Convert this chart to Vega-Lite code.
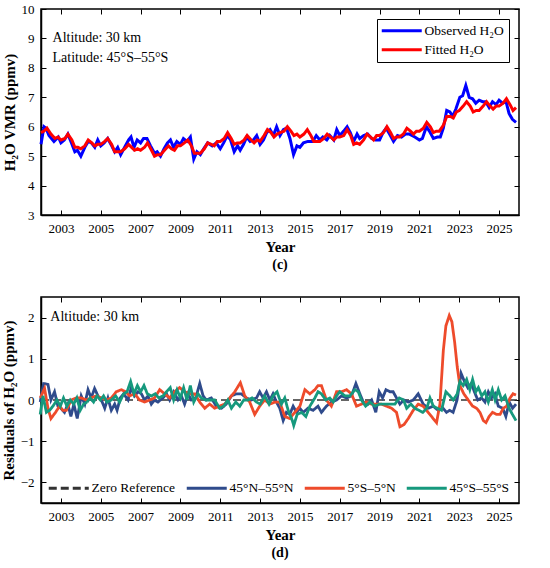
{
  "$schema": "https://vega.github.io/schema/vega-lite/v6.json",
  "padding": {"left": 0, "top": 2, "right": 5, "bottom": 4},
  "background": "white",
  "spacing": 22,
  "resolve": {"scale": {"color": "independent", "strokeDash": "independent", "x": "independent", "y": "independent"}, "legend": {"color": "independent", "strokeDash": "independent"}},
  "config": {
    "view": {"stroke": "black", "strokeWidth": 1.5},
    "font": "Liberation Serif",
    "axis": {
      "labelFont": "Liberation Serif", "labelFontSize": 13, "labelColor": "black",
      "titleFont": "Liberation Serif", "titleFontSize": 15, "titleFontWeight": "bold", "titleColor": "black",
      "tickColor": "black", "domainColor": "black", "domainWidth": 1.5, "tickWidth": 1, "tickSize": -5,
      "grid": false, "labelPadding": 12
    },
    "legend": {"labelFont": "Liberation Serif", "labelFontSize": 13.5, "labelColor": "black", "labelLimit": 300}
  },
  "datasets": {
    "top": [
      {"year": 2002.0, "value": 5.4, "series": "Observed H₂O"},
      {"year": 2002.15, "value": 6.0, "series": "Observed H₂O"},
      {"year": 2002.25, "value": 5.95, "series": "Observed H₂O"},
      {"year": 2002.4, "value": 5.7, "series": "Observed H₂O"},
      {"year": 2002.65, "value": 5.5, "series": "Observed H₂O"},
      {"year": 2002.87, "value": 5.65, "series": "Observed H₂O"},
      {"year": 2003.0, "value": 5.45, "series": "Observed H₂O"},
      {"year": 2003.17, "value": 5.55, "series": "Observed H₂O"},
      {"year": 2003.35, "value": 5.75, "series": "Observed H₂O"},
      {"year": 2003.53, "value": 5.45, "series": "Observed H₂O"},
      {"year": 2003.7, "value": 5.15, "series": "Observed H₂O"},
      {"year": 2003.83, "value": 5.2, "series": "Observed H₂O"},
      {"year": 2004.0, "value": 5.0, "series": "Observed H₂O"},
      {"year": 2004.2, "value": 5.3, "series": "Observed H₂O"},
      {"year": 2004.37, "value": 5.5, "series": "Observed H₂O"},
      {"year": 2004.53, "value": 5.45, "series": "Observed H₂O"},
      {"year": 2004.7, "value": 5.3, "series": "Observed H₂O"},
      {"year": 2004.85, "value": 5.55, "series": "Observed H₂O"},
      {"year": 2005.0, "value": 5.35, "series": "Observed H₂O"},
      {"year": 2005.17, "value": 5.45, "series": "Observed H₂O"},
      {"year": 2005.35, "value": 5.6, "series": "Observed H₂O"},
      {"year": 2005.55, "value": 5.35, "series": "Observed H₂O"},
      {"year": 2005.7, "value": 5.15, "series": "Observed H₂O"},
      {"year": 2005.85, "value": 5.3, "series": "Observed H₂O"},
      {"year": 2006.0, "value": 5.05, "series": "Observed H₂O"},
      {"year": 2006.2, "value": 5.3, "series": "Observed H₂O"},
      {"year": 2006.4, "value": 5.55, "series": "Observed H₂O"},
      {"year": 2006.52, "value": 5.65, "series": "Observed H₂O"},
      {"year": 2006.67, "value": 5.3, "series": "Observed H₂O"},
      {"year": 2006.83, "value": 5.55, "series": "Observed H₂O"},
      {"year": 2007.0, "value": 5.45, "series": "Observed H₂O"},
      {"year": 2007.15, "value": 5.6, "series": "Observed H₂O"},
      {"year": 2007.32, "value": 5.6, "series": "Observed H₂O"},
      {"year": 2007.5, "value": 5.35, "series": "Observed H₂O"},
      {"year": 2007.7, "value": 5.1, "series": "Observed H₂O"},
      {"year": 2007.83, "value": 5.15, "series": "Observed H₂O"},
      {"year": 2008.0, "value": 5.0, "series": "Observed H₂O"},
      {"year": 2008.18, "value": 5.25, "series": "Observed H₂O"},
      {"year": 2008.35, "value": 5.45, "series": "Observed H₂O"},
      {"year": 2008.5, "value": 5.55, "series": "Observed H₂O"},
      {"year": 2008.65, "value": 5.3, "series": "Observed H₂O"},
      {"year": 2008.82, "value": 5.5, "series": "Observed H₂O"},
      {"year": 2009.0, "value": 5.4, "series": "Observed H₂O"},
      {"year": 2009.15, "value": 5.6, "series": "Observed H₂O"},
      {"year": 2009.33, "value": 5.5, "series": "Observed H₂O"},
      {"year": 2009.5, "value": 5.65, "series": "Observed H₂O"},
      {"year": 2009.67, "value": 4.9, "series": "Observed H₂O"},
      {"year": 2009.83, "value": 5.15, "series": "Observed H₂O"},
      {"year": 2010.0, "value": 5.05, "series": "Observed H₂O"},
      {"year": 2010.17, "value": 5.25, "series": "Observed H₂O"},
      {"year": 2010.37, "value": 5.45, "series": "Observed H₂O"},
      {"year": 2010.6, "value": 5.35, "series": "Observed H₂O"},
      {"year": 2010.8, "value": 5.45, "series": "Observed H₂O"},
      {"year": 2011.0, "value": 5.25, "series": "Observed H₂O"},
      {"year": 2011.17, "value": 5.45, "series": "Observed H₂O"},
      {"year": 2011.35, "value": 5.7, "series": "Observed H₂O"},
      {"year": 2011.52, "value": 5.55, "series": "Observed H₂O"},
      {"year": 2011.7, "value": 5.15, "series": "Observed H₂O"},
      {"year": 2011.87, "value": 5.35, "series": "Observed H₂O"},
      {"year": 2012.0, "value": 5.2, "series": "Observed H₂O"},
      {"year": 2012.17, "value": 5.4, "series": "Observed H₂O"},
      {"year": 2012.33, "value": 5.65, "series": "Observed H₂O"},
      {"year": 2012.5, "value": 5.5, "series": "Observed H₂O"},
      {"year": 2012.67, "value": 5.55, "series": "Observed H₂O"},
      {"year": 2012.83, "value": 5.7, "series": "Observed H₂O"},
      {"year": 2013.0, "value": 5.4, "series": "Observed H₂O"},
      {"year": 2013.17, "value": 5.55, "series": "Observed H₂O"},
      {"year": 2013.33, "value": 5.8, "series": "Observed H₂O"},
      {"year": 2013.5, "value": 5.9, "series": "Observed H₂O"},
      {"year": 2013.67, "value": 5.7, "series": "Observed H₂O"},
      {"year": 2013.83, "value": 6.0, "series": "Observed H₂O"},
      {"year": 2014.0, "value": 5.7, "series": "Observed H₂O"},
      {"year": 2014.17, "value": 5.9, "series": "Observed H₂O"},
      {"year": 2014.33, "value": 5.95, "series": "Observed H₂O"},
      {"year": 2014.5, "value": 5.6, "series": "Observed H₂O"},
      {"year": 2014.68, "value": 5.05, "series": "Observed H₂O"},
      {"year": 2014.85, "value": 5.35, "series": "Observed H₂O"},
      {"year": 2015.0, "value": 5.3, "series": "Observed H₂O"},
      {"year": 2015.18, "value": 5.45, "series": "Observed H₂O"},
      {"year": 2015.4, "value": 5.5, "series": "Observed H₂O"},
      {"year": 2015.65, "value": 5.5, "series": "Observed H₂O"},
      {"year": 2015.82, "value": 5.7, "series": "Observed H₂O"},
      {"year": 2016.0, "value": 5.55, "series": "Observed H₂O"},
      {"year": 2016.15, "value": 5.65, "series": "Observed H₂O"},
      {"year": 2016.35, "value": 5.55, "series": "Observed H₂O"},
      {"year": 2016.5, "value": 5.7, "series": "Observed H₂O"},
      {"year": 2016.7, "value": 5.55, "series": "Observed H₂O"},
      {"year": 2016.85, "value": 5.9, "series": "Observed H₂O"},
      {"year": 2017.0, "value": 5.7, "series": "Observed H₂O"},
      {"year": 2017.2, "value": 5.85, "series": "Observed H₂O"},
      {"year": 2017.37, "value": 6.0, "series": "Observed H₂O"},
      {"year": 2017.53, "value": 5.8, "series": "Observed H₂O"},
      {"year": 2017.7, "value": 5.5, "series": "Observed H₂O"},
      {"year": 2017.87, "value": 5.75, "series": "Observed H₂O"},
      {"year": 2018.0, "value": 5.6, "series": "Observed H₂O"},
      {"year": 2018.2, "value": 5.7, "series": "Observed H₂O"},
      {"year": 2018.4, "value": 5.75, "series": "Observed H₂O"},
      {"year": 2018.6, "value": 5.6, "series": "Observed H₂O"},
      {"year": 2018.8, "value": 5.55, "series": "Observed H₂O"},
      {"year": 2019.0, "value": 5.55, "series": "Observed H₂O"},
      {"year": 2019.17, "value": 5.8, "series": "Observed H₂O"},
      {"year": 2019.33, "value": 5.95, "series": "Observed H₂O"},
      {"year": 2019.5, "value": 5.75, "series": "Observed H₂O"},
      {"year": 2019.7, "value": 5.5, "series": "Observed H₂O"},
      {"year": 2019.9, "value": 5.7, "series": "Observed H₂O"},
      {"year": 2020.1, "value": 5.65, "series": "Observed H₂O"},
      {"year": 2020.3, "value": 5.75, "series": "Observed H₂O"},
      {"year": 2020.5, "value": 5.75, "series": "Observed H₂O"},
      {"year": 2020.77, "value": 5.65, "series": "Observed H₂O"},
      {"year": 2021.0, "value": 5.55, "series": "Observed H₂O"},
      {"year": 2021.15, "value": 5.6, "series": "Observed H₂O"},
      {"year": 2021.35, "value": 6.0, "series": "Observed H₂O"},
      {"year": 2021.5, "value": 5.85, "series": "Observed H₂O"},
      {"year": 2021.7, "value": 5.6, "series": "Observed H₂O"},
      {"year": 2021.9, "value": 5.65, "series": "Observed H₂O"},
      {"year": 2022.05, "value": 5.65, "series": "Observed H₂O"},
      {"year": 2022.2, "value": 5.95, "series": "Observed H₂O"},
      {"year": 2022.37, "value": 6.55, "series": "Observed H₂O"},
      {"year": 2022.53, "value": 6.5, "series": "Observed H₂O"},
      {"year": 2022.67, "value": 6.35, "series": "Observed H₂O"},
      {"year": 2022.83, "value": 6.6, "series": "Observed H₂O"},
      {"year": 2023.03, "value": 7.0, "series": "Observed H₂O"},
      {"year": 2023.17, "value": 7.05, "series": "Observed H₂O"},
      {"year": 2023.33, "value": 7.4, "series": "Observed H₂O"},
      {"year": 2023.5, "value": 7.0, "series": "Observed H₂O"},
      {"year": 2023.67, "value": 6.95, "series": "Observed H₂O"},
      {"year": 2023.83, "value": 6.8, "series": "Observed H₂O"},
      {"year": 2024.0, "value": 6.9, "series": "Observed H₂O"},
      {"year": 2024.17, "value": 6.85, "series": "Observed H₂O"},
      {"year": 2024.33, "value": 6.85, "series": "Observed H₂O"},
      {"year": 2024.5, "value": 6.65, "series": "Observed H₂O"},
      {"year": 2024.67, "value": 6.85, "series": "Observed H₂O"},
      {"year": 2024.85, "value": 6.75, "series": "Observed H₂O"},
      {"year": 2025.0, "value": 6.9, "series": "Observed H₂O"},
      {"year": 2025.17, "value": 6.8, "series": "Observed H₂O"},
      {"year": 2025.35, "value": 6.85, "series": "Observed H₂O"},
      {"year": 2025.5, "value": 6.45, "series": "Observed H₂O"},
      {"year": 2025.67, "value": 6.25, "series": "Observed H₂O"},
      {"year": 2025.85, "value": 6.15, "series": "Observed H₂O"},
      {"year": 2002.0, "value": 5.8, "series": "Fitted H₂O"},
      {"year": 2002.15, "value": 5.85, "series": "Fitted H₂O"},
      {"year": 2002.3, "value": 5.95, "series": "Fitted H₂O"},
      {"year": 2002.5, "value": 5.75, "series": "Fitted H₂O"},
      {"year": 2002.7, "value": 5.6, "series": "Fitted H₂O"},
      {"year": 2002.85, "value": 5.65, "series": "Fitted H₂O"},
      {"year": 2003.0, "value": 5.55, "series": "Fitted H₂O"},
      {"year": 2003.2, "value": 5.6, "series": "Fitted H₂O"},
      {"year": 2003.35, "value": 5.75, "series": "Fitted H₂O"},
      {"year": 2003.55, "value": 5.55, "series": "Fitted H₂O"},
      {"year": 2003.7, "value": 5.3, "series": "Fitted H₂O"},
      {"year": 2003.85, "value": 5.3, "series": "Fitted H₂O"},
      {"year": 2004.0, "value": 5.25, "series": "Fitted H₂O"},
      {"year": 2004.2, "value": 5.35, "series": "Fitted H₂O"},
      {"year": 2004.37, "value": 5.55, "series": "Fitted H₂O"},
      {"year": 2004.55, "value": 5.45, "series": "Fitted H₂O"},
      {"year": 2004.7, "value": 5.35, "series": "Fitted H₂O"},
      {"year": 2004.85, "value": 5.4, "series": "Fitted H₂O"},
      {"year": 2005.0, "value": 5.4, "series": "Fitted H₂O"},
      {"year": 2005.2, "value": 5.5, "series": "Fitted H₂O"},
      {"year": 2005.35, "value": 5.6, "series": "Fitted H₂O"},
      {"year": 2005.55, "value": 5.4, "series": "Fitted H₂O"},
      {"year": 2005.7, "value": 5.15, "series": "Fitted H₂O"},
      {"year": 2005.85, "value": 5.15, "series": "Fitted H₂O"},
      {"year": 2006.0, "value": 5.15, "series": "Fitted H₂O"},
      {"year": 2006.2, "value": 5.25, "series": "Fitted H₂O"},
      {"year": 2006.4, "value": 5.4, "series": "Fitted H₂O"},
      {"year": 2006.55, "value": 5.3, "series": "Fitted H₂O"},
      {"year": 2006.7, "value": 5.2, "series": "Fitted H₂O"},
      {"year": 2006.85, "value": 5.25, "series": "Fitted H₂O"},
      {"year": 2007.0, "value": 5.2, "series": "Fitted H₂O"},
      {"year": 2007.2, "value": 5.3, "series": "Fitted H₂O"},
      {"year": 2007.35, "value": 5.45, "series": "Fitted H₂O"},
      {"year": 2007.55, "value": 5.2, "series": "Fitted H₂O"},
      {"year": 2007.7, "value": 5.0, "series": "Fitted H₂O"},
      {"year": 2007.85, "value": 5.05, "series": "Fitted H₂O"},
      {"year": 2008.0, "value": 5.05, "series": "Fitted H₂O"},
      {"year": 2008.2, "value": 5.2, "series": "Fitted H₂O"},
      {"year": 2008.4, "value": 5.35, "series": "Fitted H₂O"},
      {"year": 2008.55, "value": 5.25, "series": "Fitted H₂O"},
      {"year": 2008.7, "value": 5.2, "series": "Fitted H₂O"},
      {"year": 2008.85, "value": 5.35, "series": "Fitted H₂O"},
      {"year": 2009.0, "value": 5.35, "series": "Fitted H₂O"},
      {"year": 2009.2, "value": 5.45, "series": "Fitted H₂O"},
      {"year": 2009.37, "value": 5.55, "series": "Fitted H₂O"},
      {"year": 2009.55, "value": 5.35, "series": "Fitted H₂O"},
      {"year": 2009.7, "value": 5.1, "series": "Fitted H₂O"},
      {"year": 2009.85, "value": 5.1, "series": "Fitted H₂O"},
      {"year": 2010.0, "value": 5.1, "series": "Fitted H₂O"},
      {"year": 2010.2, "value": 5.25, "series": "Fitted H₂O"},
      {"year": 2010.37, "value": 5.45, "series": "Fitted H₂O"},
      {"year": 2010.55, "value": 5.4, "series": "Fitted H₂O"},
      {"year": 2010.7, "value": 5.35, "series": "Fitted H₂O"},
      {"year": 2010.85, "value": 5.5, "series": "Fitted H₂O"},
      {"year": 2011.0, "value": 5.5, "series": "Fitted H₂O"},
      {"year": 2011.2, "value": 5.6, "series": "Fitted H₂O"},
      {"year": 2011.37, "value": 5.8, "series": "Fitted H₂O"},
      {"year": 2011.55, "value": 5.6, "series": "Fitted H₂O"},
      {"year": 2011.7, "value": 5.4, "series": "Fitted H₂O"},
      {"year": 2011.85, "value": 5.45, "series": "Fitted H₂O"},
      {"year": 2012.0, "value": 5.45, "series": "Fitted H₂O"},
      {"year": 2012.2, "value": 5.55, "series": "Fitted H₂O"},
      {"year": 2012.35, "value": 5.7, "series": "Fitted H₂O"},
      {"year": 2012.55, "value": 5.55, "series": "Fitted H₂O"},
      {"year": 2012.7, "value": 5.45, "series": "Fitted H₂O"},
      {"year": 2012.85, "value": 5.55, "series": "Fitted H₂O"},
      {"year": 2013.0, "value": 5.5, "series": "Fitted H₂O"},
      {"year": 2013.2, "value": 5.7, "series": "Fitted H₂O"},
      {"year": 2013.37, "value": 5.9, "series": "Fitted H₂O"},
      {"year": 2013.55, "value": 5.8, "series": "Fitted H₂O"},
      {"year": 2013.7, "value": 5.65, "series": "Fitted H₂O"},
      {"year": 2013.85, "value": 5.75, "series": "Fitted H₂O"},
      {"year": 2014.0, "value": 5.8, "series": "Fitted H₂O"},
      {"year": 2014.2, "value": 5.85, "series": "Fitted H₂O"},
      {"year": 2014.37, "value": 6.0, "series": "Fitted H₂O"},
      {"year": 2014.55, "value": 5.85, "series": "Fitted H₂O"},
      {"year": 2014.7, "value": 5.7, "series": "Fitted H₂O"},
      {"year": 2014.85, "value": 5.75, "series": "Fitted H₂O"},
      {"year": 2015.0, "value": 5.65, "series": "Fitted H₂O"},
      {"year": 2015.2, "value": 5.75, "series": "Fitted H₂O"},
      {"year": 2015.37, "value": 5.9, "series": "Fitted H₂O"},
      {"year": 2015.55, "value": 5.7, "series": "Fitted H₂O"},
      {"year": 2015.7, "value": 5.5, "series": "Fitted H₂O"},
      {"year": 2015.85, "value": 5.5, "series": "Fitted H₂O"},
      {"year": 2016.0, "value": 5.5, "series": "Fitted H₂O"},
      {"year": 2016.2, "value": 5.6, "series": "Fitted H₂O"},
      {"year": 2016.37, "value": 5.75, "series": "Fitted H₂O"},
      {"year": 2016.55, "value": 5.65, "series": "Fitted H₂O"},
      {"year": 2016.7, "value": 5.55, "series": "Fitted H₂O"},
      {"year": 2016.85, "value": 5.65, "series": "Fitted H₂O"},
      {"year": 2017.0, "value": 5.65, "series": "Fitted H₂O"},
      {"year": 2017.2, "value": 5.7, "series": "Fitted H₂O"},
      {"year": 2017.37, "value": 5.9, "series": "Fitted H₂O"},
      {"year": 2017.55, "value": 5.7, "series": "Fitted H₂O"},
      {"year": 2017.7, "value": 5.4, "series": "Fitted H₂O"},
      {"year": 2017.85, "value": 5.45, "series": "Fitted H₂O"},
      {"year": 2018.0, "value": 5.4, "series": "Fitted H₂O"},
      {"year": 2018.2, "value": 5.55, "series": "Fitted H₂O"},
      {"year": 2018.37, "value": 5.75, "series": "Fitted H₂O"},
      {"year": 2018.55, "value": 5.65, "series": "Fitted H₂O"},
      {"year": 2018.7, "value": 5.55, "series": "Fitted H₂O"},
      {"year": 2018.85, "value": 5.7, "series": "Fitted H₂O"},
      {"year": 2019.0, "value": 5.7, "series": "Fitted H₂O"},
      {"year": 2019.2, "value": 5.8, "series": "Fitted H₂O"},
      {"year": 2019.37, "value": 6.0, "series": "Fitted H₂O"},
      {"year": 2019.55, "value": 5.8, "series": "Fitted H₂O"},
      {"year": 2019.7, "value": 5.6, "series": "Fitted H₂O"},
      {"year": 2019.85, "value": 5.65, "series": "Fitted H₂O"},
      {"year": 2020.0, "value": 5.65, "series": "Fitted H₂O"},
      {"year": 2020.2, "value": 5.75, "series": "Fitted H₂O"},
      {"year": 2020.37, "value": 5.95, "series": "Fitted H₂O"},
      {"year": 2020.55, "value": 5.85, "series": "Fitted H₂O"},
      {"year": 2020.7, "value": 5.75, "series": "Fitted H₂O"},
      {"year": 2020.85, "value": 5.85, "series": "Fitted H₂O"},
      {"year": 2021.0, "value": 5.85, "series": "Fitted H₂O"},
      {"year": 2021.2, "value": 5.95, "series": "Fitted H₂O"},
      {"year": 2021.37, "value": 6.15, "series": "Fitted H₂O"},
      {"year": 2021.55, "value": 6.0, "series": "Fitted H₂O"},
      {"year": 2021.7, "value": 5.8, "series": "Fitted H₂O"},
      {"year": 2021.85, "value": 5.85, "series": "Fitted H₂O"},
      {"year": 2022.0, "value": 5.85, "series": "Fitted H₂O"},
      {"year": 2022.2, "value": 6.05, "series": "Fitted H₂O"},
      {"year": 2022.37, "value": 6.35, "series": "Fitted H₂O"},
      {"year": 2022.55, "value": 6.35, "series": "Fitted H₂O"},
      {"year": 2022.7, "value": 6.3, "series": "Fitted H₂O"},
      {"year": 2022.85, "value": 6.5, "series": "Fitted H₂O"},
      {"year": 2023.0, "value": 6.55, "series": "Fitted H₂O"},
      {"year": 2023.2, "value": 6.7, "series": "Fitted H₂O"},
      {"year": 2023.37, "value": 6.85, "series": "Fitted H₂O"},
      {"year": 2023.55, "value": 6.7, "series": "Fitted H₂O"},
      {"year": 2023.7, "value": 6.5, "series": "Fitted H₂O"},
      {"year": 2023.85, "value": 6.55, "series": "Fitted H₂O"},
      {"year": 2024.0, "value": 6.55, "series": "Fitted H₂O"},
      {"year": 2024.2, "value": 6.7, "series": "Fitted H₂O"},
      {"year": 2024.37, "value": 6.85, "series": "Fitted H₂O"},
      {"year": 2024.55, "value": 6.7, "series": "Fitted H₂O"},
      {"year": 2024.7, "value": 6.6, "series": "Fitted H₂O"},
      {"year": 2024.85, "value": 6.7, "series": "Fitted H₂O"},
      {"year": 2025.0, "value": 6.7, "series": "Fitted H₂O"},
      {"year": 2025.2, "value": 6.8, "series": "Fitted H₂O"},
      {"year": 2025.37, "value": 6.95, "series": "Fitted H₂O"},
      {"year": 2025.55, "value": 6.75, "series": "Fitted H₂O"},
      {"year": 2025.7, "value": 6.55, "series": "Fitted H₂O"},
      {"year": 2025.85, "value": 6.65, "series": "Fitted H₂O"}
    ],
    "resid": [
      {"year": 2002.0, "value": 0, "series": "Zero Reference"},
      {"year": 2026.0, "value": 0, "series": "Zero Reference"},
      {"year": 2001.96, "value": -0.05, "series": "45°N–55°N"},
      {"year": 2002.13, "value": 0.4, "series": "45°N–55°N"},
      {"year": 2002.35, "value": 0.38, "series": "45°N–55°N"},
      {"year": 2002.5, "value": 0.0, "series": "45°N–55°N"},
      {"year": 2002.68, "value": 0.2, "series": "45°N–55°N"},
      {"year": 2002.85, "value": -0.15, "series": "45°N–55°N"},
      {"year": 2003.0, "value": -0.2, "series": "45°N–55°N"},
      {"year": 2003.18, "value": -0.3, "series": "45°N–55°N"},
      {"year": 2003.35, "value": -0.1, "series": "45°N–55°N"},
      {"year": 2003.5, "value": -0.4, "series": "45°N–55°N"},
      {"year": 2003.65, "value": -0.1, "series": "45°N–55°N"},
      {"year": 2003.82, "value": -0.45, "series": "45°N–55°N"},
      {"year": 2004.02, "value": 0.1, "series": "45°N–55°N"},
      {"year": 2004.2, "value": -0.1, "series": "45°N–55°N"},
      {"year": 2004.36, "value": 0.25, "series": "45°N–55°N"},
      {"year": 2004.52, "value": 0.05, "series": "45°N–55°N"},
      {"year": 2004.69, "value": 0.28, "series": "45°N–55°N"},
      {"year": 2004.86, "value": 0.1, "series": "45°N–55°N"},
      {"year": 2005.03, "value": 0.0, "series": "45°N–55°N"},
      {"year": 2005.2, "value": -0.2, "series": "45°N–55°N"},
      {"year": 2005.36, "value": 0.05, "series": "45°N–55°N"},
      {"year": 2005.53, "value": -0.25, "series": "45°N–55°N"},
      {"year": 2005.7, "value": -0.1, "series": "45°N–55°N"},
      {"year": 2005.82, "value": -0.25, "series": "45°N–55°N"},
      {"year": 2005.98, "value": 0.05, "series": "45°N–55°N"},
      {"year": 2006.15, "value": 0.15, "series": "45°N–55°N"},
      {"year": 2006.37, "value": 0.0, "series": "45°N–55°N"},
      {"year": 2006.53, "value": 0.3, "series": "45°N–55°N"},
      {"year": 2006.7, "value": 0.1, "series": "45°N–55°N"},
      {"year": 2006.87, "value": 0.2, "series": "45°N–55°N"},
      {"year": 2007.04, "value": 0.15, "series": "45°N–55°N"},
      {"year": 2007.2, "value": 0.0, "series": "45°N–55°N"},
      {"year": 2007.37, "value": 0.1, "series": "45°N–55°N"},
      {"year": 2007.54, "value": -0.1, "series": "45°N–55°N"},
      {"year": 2007.7, "value": 0.0, "series": "45°N–55°N"},
      {"year": 2007.87, "value": -0.05, "series": "45°N–55°N"},
      {"year": 2008.12, "value": 0.05, "series": "45°N–55°N"},
      {"year": 2008.3, "value": 0.15, "series": "45°N–55°N"},
      {"year": 2008.46, "value": 0.0, "series": "45°N–55°N"},
      {"year": 2008.66, "value": 0.2, "series": "45°N–55°N"},
      {"year": 2008.88, "value": 0.0, "series": "45°N–55°N"},
      {"year": 2009.05, "value": 0.1, "series": "45°N–55°N"},
      {"year": 2009.21, "value": -0.1, "series": "45°N–55°N"},
      {"year": 2009.38, "value": 0.15, "series": "45°N–55°N"},
      {"year": 2009.55, "value": 0.0, "series": "45°N–55°N"},
      {"year": 2009.77, "value": 0.05, "series": "45°N–55°N"},
      {"year": 2009.97, "value": 0.4, "series": "45°N–55°N"},
      {"year": 2010.14, "value": 0.1, "series": "45°N–55°N"},
      {"year": 2010.3, "value": 0.0, "series": "45°N–55°N"},
      {"year": 2010.55, "value": 0.05, "series": "45°N–55°N"},
      {"year": 2010.8, "value": -0.15, "series": "45°N–55°N"},
      {"year": 2011.06, "value": -0.2, "series": "45°N–55°N"},
      {"year": 2011.3, "value": -0.1, "series": "45°N–55°N"},
      {"year": 2011.56, "value": 0.1, "series": "45°N–55°N"},
      {"year": 2011.81, "value": 0.15, "series": "45°N–55°N"},
      {"year": 2012.06, "value": 0.15, "series": "45°N–55°N"},
      {"year": 2012.31, "value": 0.05, "series": "45°N–55°N"},
      {"year": 2012.56, "value": 0.0, "series": "45°N–55°N"},
      {"year": 2012.82, "value": 0.05, "series": "45°N–55°N"},
      {"year": 2012.98, "value": 0.2, "series": "45°N–55°N"},
      {"year": 2013.15, "value": 0.05, "series": "45°N–55°N"},
      {"year": 2013.32, "value": 0.2, "series": "45°N–55°N"},
      {"year": 2013.49, "value": 0.0, "series": "45°N–55°N"},
      {"year": 2013.65, "value": 0.15, "series": "45°N–55°N"},
      {"year": 2013.82, "value": -0.05, "series": "45°N–55°N"},
      {"year": 2013.99, "value": -0.2, "series": "45°N–55°N"},
      {"year": 2014.16, "value": -0.5, "series": "45°N–55°N"},
      {"year": 2014.32, "value": -0.3, "series": "45°N–55°N"},
      {"year": 2014.49, "value": -0.35, "series": "45°N–55°N"},
      {"year": 2014.66, "value": -0.15, "series": "45°N–55°N"},
      {"year": 2014.83, "value": -0.3, "series": "45°N–55°N"},
      {"year": 2015.0, "value": -0.2, "series": "45°N–55°N"},
      {"year": 2015.16, "value": -0.3, "series": "45°N–55°N"},
      {"year": 2015.41, "value": -0.2, "series": "45°N–55°N"},
      {"year": 2015.66, "value": -0.25, "series": "45°N–55°N"},
      {"year": 2015.91, "value": -0.15, "series": "45°N–55°N"},
      {"year": 2016.08, "value": -0.3, "series": "45°N–55°N"},
      {"year": 2016.33, "value": -0.15, "series": "45°N–55°N"},
      {"year": 2016.58, "value": -0.05, "series": "45°N–55°N"},
      {"year": 2016.84, "value": 0.0, "series": "45°N–55°N"},
      {"year": 2017.09, "value": 0.1, "series": "45°N–55°N"},
      {"year": 2017.34, "value": 0.05, "series": "45°N–55°N"},
      {"year": 2017.59, "value": 0.1, "series": "45°N–55°N"},
      {"year": 2017.81, "value": 0.4, "series": "45°N–55°N"},
      {"year": 2018.01, "value": 0.15, "series": "45°N–55°N"},
      {"year": 2018.18, "value": -0.05, "series": "45°N–55°N"},
      {"year": 2018.43, "value": -0.1, "series": "45°N–55°N"},
      {"year": 2018.6, "value": 0.0, "series": "45°N–55°N"},
      {"year": 2018.81, "value": -0.3, "series": "45°N–55°N"},
      {"year": 2018.98, "value": 0.2, "series": "45°N–55°N"},
      {"year": 2019.15, "value": 0.05, "series": "45°N–55°N"},
      {"year": 2019.32, "value": 0.25, "series": "45°N–55°N"},
      {"year": 2019.52, "value": 0.2, "series": "45°N–55°N"},
      {"year": 2019.68, "value": 0.2, "series": "45°N–55°N"},
      {"year": 2019.85, "value": 0.05, "series": "45°N–55°N"},
      {"year": 2020.02, "value": -0.1, "series": "45°N–55°N"},
      {"year": 2020.22, "value": 0.0, "series": "45°N–55°N"},
      {"year": 2020.44, "value": -0.05, "series": "45°N–55°N"},
      {"year": 2020.69, "value": 0.0, "series": "45°N–55°N"},
      {"year": 2020.94, "value": 0.15, "series": "45°N–55°N"},
      {"year": 2021.19, "value": -0.1, "series": "45°N–55°N"},
      {"year": 2021.44, "value": -0.2, "series": "45°N–55°N"},
      {"year": 2021.69, "value": -0.15, "series": "45°N–55°N"},
      {"year": 2021.94, "value": -0.25, "series": "45°N–55°N"},
      {"year": 2022.19, "value": -0.2, "series": "45°N–55°N"},
      {"year": 2022.36, "value": -0.3, "series": "45°N–55°N"},
      {"year": 2022.52, "value": -0.25, "series": "45°N–55°N"},
      {"year": 2022.69, "value": -0.3, "series": "45°N–55°N"},
      {"year": 2022.89, "value": 0.0, "series": "45°N–55°N"},
      {"year": 2023.09, "value": 0.65, "series": "45°N–55°N"},
      {"year": 2023.26, "value": 0.45, "series": "45°N–55°N"},
      {"year": 2023.43, "value": 0.3, "series": "45°N–55°N"},
      {"year": 2023.6, "value": 0.4, "series": "45°N–55°N"},
      {"year": 2023.76, "value": 0.2, "series": "45°N–55°N"},
      {"year": 2023.93, "value": 0.0, "series": "45°N–55°N"},
      {"year": 2024.12, "value": 0.05, "series": "45°N–55°N"},
      {"year": 2024.29, "value": -0.05, "series": "45°N–55°N"},
      {"year": 2024.46, "value": 0.2, "series": "45°N–55°N"},
      {"year": 2024.62, "value": 0.05, "series": "45°N–55°N"},
      {"year": 2024.79, "value": 0.15, "series": "45°N–55°N"},
      {"year": 2024.96, "value": -0.15, "series": "45°N–55°N"},
      {"year": 2025.18, "value": -0.2, "series": "45°N–55°N"},
      {"year": 2025.34, "value": -0.4, "series": "45°N–55°N"},
      {"year": 2025.51, "value": -0.05, "series": "45°N–55°N"},
      {"year": 2025.68, "value": -0.2, "series": "45°N–55°N"},
      {"year": 2025.85, "value": -0.1, "series": "45°N–55°N"},
      {"year": 2001.96, "value": 0.05, "series": "5°S–5°N"},
      {"year": 2002.18, "value": 0.28, "series": "5°S–5°N"},
      {"year": 2002.35, "value": -0.2, "series": "5°S–5°N"},
      {"year": 2002.5, "value": -0.45, "series": "5°S–5°N"},
      {"year": 2002.73, "value": -0.3, "series": "5°S–5°N"},
      {"year": 2002.93, "value": -0.15, "series": "5°S–5°N"},
      {"year": 2003.1, "value": -0.25, "series": "5°S–5°N"},
      {"year": 2003.27, "value": -0.25, "series": "5°S–5°N"},
      {"year": 2003.52, "value": 0.0, "series": "5°S–5°N"},
      {"year": 2003.77, "value": 0.05, "series": "5°S–5°N"},
      {"year": 2004.02, "value": 0.05, "series": "5°S–5°N"},
      {"year": 2004.27, "value": 0.0, "series": "5°S–5°N"},
      {"year": 2004.52, "value": 0.05, "series": "5°S–5°N"},
      {"year": 2004.78, "value": 0.1, "series": "5°S–5°N"},
      {"year": 2005.03, "value": 0.05, "series": "5°S–5°N"},
      {"year": 2005.28, "value": 0.0, "series": "5°S–5°N"},
      {"year": 2005.53, "value": 0.05, "series": "5°S–5°N"},
      {"year": 2005.78, "value": 0.2, "series": "5°S–5°N"},
      {"year": 2006.03, "value": 0.25, "series": "5°S–5°N"},
      {"year": 2006.25, "value": 0.2, "series": "5°S–5°N"},
      {"year": 2006.45, "value": 0.1, "series": "5°S–5°N"},
      {"year": 2006.7, "value": 0.15, "series": "5°S–5°N"},
      {"year": 2006.95, "value": 0.0, "series": "5°S–5°N"},
      {"year": 2007.2, "value": -0.05, "series": "5°S–5°N"},
      {"year": 2007.46, "value": 0.0, "series": "5°S–5°N"},
      {"year": 2007.7, "value": 0.05, "series": "5°S–5°N"},
      {"year": 2007.96, "value": 0.25, "series": "5°S–5°N"},
      {"year": 2008.21, "value": 0.15, "series": "5°S–5°N"},
      {"year": 2008.46, "value": 0.05, "series": "5°S–5°N"},
      {"year": 2008.71, "value": 0.2, "series": "5°S–5°N"},
      {"year": 2008.96, "value": 0.3, "series": "5°S–5°N"},
      {"year": 2009.21, "value": 0.2, "series": "5°S–5°N"},
      {"year": 2009.47, "value": 0.15, "series": "5°S–5°N"},
      {"year": 2009.72, "value": 0.15, "series": "5°S–5°N"},
      {"year": 2009.97, "value": -0.05, "series": "5°S–5°N"},
      {"year": 2010.22, "value": -0.2, "series": "5°S–5°N"},
      {"year": 2010.47, "value": -0.1, "series": "5°S–5°N"},
      {"year": 2010.72, "value": -0.2, "series": "5°S–5°N"},
      {"year": 2010.97, "value": -0.15, "series": "5°S–5°N"},
      {"year": 2011.22, "value": -0.1, "series": "5°S–5°N"},
      {"year": 2011.48, "value": 0.05, "series": "5°S–5°N"},
      {"year": 2011.73, "value": 0.2, "series": "5°S–5°N"},
      {"year": 2012.01, "value": 0.42, "series": "5°S–5°N"},
      {"year": 2012.23, "value": 0.1, "series": "5°S–5°N"},
      {"year": 2012.48, "value": -0.05, "series": "5°S–5°N"},
      {"year": 2012.73, "value": -0.35, "series": "5°S–5°N"},
      {"year": 2012.98, "value": -0.15, "series": "5°S–5°N"},
      {"year": 2013.23, "value": 0.0, "series": "5°S–5°N"},
      {"year": 2013.49, "value": -0.1, "series": "5°S–5°N"},
      {"year": 2013.74, "value": -0.05, "series": "5°S–5°N"},
      {"year": 2013.99, "value": -0.05, "series": "5°S–5°N"},
      {"year": 2014.24, "value": -0.4, "series": "5°S–5°N"},
      {"year": 2014.49, "value": -0.45, "series": "5°S–5°N"},
      {"year": 2014.74, "value": -0.3, "series": "5°S–5°N"},
      {"year": 2015.0, "value": -0.15, "series": "5°S–5°N"},
      {"year": 2015.25, "value": 0.25, "series": "5°S–5°N"},
      {"year": 2015.5, "value": 0.15, "series": "5°S–5°N"},
      {"year": 2015.75, "value": 0.25, "series": "5°S–5°N"},
      {"year": 2015.91, "value": 0.35, "series": "5°S–5°N"},
      {"year": 2016.08, "value": 0.35, "series": "5°S–5°N"},
      {"year": 2016.33, "value": 0.0, "series": "5°S–5°N"},
      {"year": 2016.58, "value": -0.15, "series": "5°S–5°N"},
      {"year": 2016.84, "value": 0.2, "series": "5°S–5°N"},
      {"year": 2017.09, "value": 0.2, "series": "5°S–5°N"},
      {"year": 2017.34, "value": 0.25, "series": "5°S–5°N"},
      {"year": 2017.59, "value": 0.15, "series": "5°S–5°N"},
      {"year": 2017.84, "value": -0.15, "series": "5°S–5°N"},
      {"year": 2018.09, "value": -0.1, "series": "5°S–5°N"},
      {"year": 2018.34, "value": -0.05, "series": "5°S–5°N"},
      {"year": 2018.6, "value": -0.1, "series": "5°S–5°N"},
      {"year": 2018.85, "value": -0.1, "series": "5°S–5°N"},
      {"year": 2019.1, "value": -0.1, "series": "5°S–5°N"},
      {"year": 2019.35, "value": -0.15, "series": "5°S–5°N"},
      {"year": 2019.6, "value": -0.2, "series": "5°S–5°N"},
      {"year": 2019.85, "value": -0.3, "series": "5°S–5°N"},
      {"year": 2020.02, "value": -0.65, "series": "5°S–5°N"},
      {"year": 2020.22, "value": -0.6, "series": "5°S–5°N"},
      {"year": 2020.44, "value": -0.45, "series": "5°S–5°N"},
      {"year": 2020.69, "value": -0.25, "series": "5°S–5°N"},
      {"year": 2020.94, "value": -0.1, "series": "5°S–5°N"},
      {"year": 2021.19, "value": -0.15, "series": "5°S–5°N"},
      {"year": 2021.44, "value": -0.3, "series": "5°S–5°N"},
      {"year": 2021.69, "value": -0.45, "series": "5°S–5°N"},
      {"year": 2021.86, "value": -0.55, "series": "5°S–5°N"},
      {"year": 2022.03, "value": -0.1, "series": "5°S–5°N"},
      {"year": 2022.2, "value": 1.2, "series": "5°S–5°N"},
      {"year": 2022.33, "value": 1.8, "series": "5°S–5°N"},
      {"year": 2022.5, "value": 2.05, "series": "5°S–5°N"},
      {"year": 2022.63, "value": 1.9, "series": "5°S–5°N"},
      {"year": 2022.77, "value": 1.4, "series": "5°S–5°N"},
      {"year": 2022.9, "value": 0.8, "series": "5°S–5°N"},
      {"year": 2023.03, "value": 0.35, "series": "5°S–5°N"},
      {"year": 2023.23, "value": 0.15, "series": "5°S–5°N"},
      {"year": 2023.45, "value": 0.0, "series": "5°S–5°N"},
      {"year": 2023.67, "value": -0.15, "series": "5°S–5°N"},
      {"year": 2023.87, "value": -0.2, "series": "5°S–5°N"},
      {"year": 2024.04, "value": -0.3, "series": "5°S–5°N"},
      {"year": 2024.21, "value": -0.5, "series": "5°S–5°N"},
      {"year": 2024.34, "value": -0.55, "series": "5°S–5°N"},
      {"year": 2024.5, "value": -0.4, "series": "5°S–5°N"},
      {"year": 2024.67, "value": -0.3, "series": "5°S–5°N"},
      {"year": 2024.88, "value": -0.35, "series": "5°S–5°N"},
      {"year": 2025.05, "value": -0.35, "series": "5°S–5°N"},
      {"year": 2025.21, "value": -0.2, "series": "5°S–5°N"},
      {"year": 2025.38, "value": -0.15, "series": "5°S–5°N"},
      {"year": 2025.55, "value": 0.05, "series": "5°S–5°N"},
      {"year": 2025.7, "value": 0.15, "series": "5°S–5°N"},
      {"year": 2025.85, "value": 0.12, "series": "5°S–5°N"},
      {"year": 2001.96, "value": -0.35, "series": "45°S–55°S"},
      {"year": 2002.1, "value": 0.1, "series": "45°S–55°S"},
      {"year": 2002.27, "value": -0.3, "series": "45°S–55°S"},
      {"year": 2002.43, "value": -0.25, "series": "45°S–55°S"},
      {"year": 2002.6, "value": -0.15, "series": "45°S–55°S"},
      {"year": 2002.8, "value": 0.0, "series": "45°S–55°S"},
      {"year": 2002.97, "value": -0.15, "series": "45°S–55°S"},
      {"year": 2003.13, "value": 0.05, "series": "45°S–55°S"},
      {"year": 2003.3, "value": -0.15, "series": "45°S–55°S"},
      {"year": 2003.47, "value": 0.0, "series": "45°S–55°S"},
      {"year": 2003.64, "value": -0.1, "series": "45°S–55°S"},
      {"year": 2003.8, "value": 0.05, "series": "45°S–55°S"},
      {"year": 2003.97, "value": -0.25, "series": "45°S–55°S"},
      {"year": 2004.14, "value": -0.1, "series": "45°S–55°S"},
      {"year": 2004.31, "value": -0.05, "series": "45°S–55°S"},
      {"year": 2004.47, "value": 0.05, "series": "45°S–55°S"},
      {"year": 2004.64, "value": -0.05, "series": "45°S–55°S"},
      {"year": 2004.81, "value": 0.1, "series": "45°S–55°S"},
      {"year": 2004.98, "value": 0.0, "series": "45°S–55°S"},
      {"year": 2005.14, "value": 0.1, "series": "45°S–55°S"},
      {"year": 2005.31, "value": -0.05, "series": "45°S–55°S"},
      {"year": 2005.53, "value": 0.0, "series": "45°S–55°S"},
      {"year": 2005.75, "value": 0.1, "series": "45°S–55°S"},
      {"year": 2005.95, "value": -0.05, "series": "45°S–55°S"},
      {"year": 2006.15, "value": 0.15, "series": "45°S–55°S"},
      {"year": 2006.32, "value": 0.2, "series": "45°S–55°S"},
      {"year": 2006.5, "value": 0.45, "series": "45°S–55°S"},
      {"year": 2006.67, "value": 0.15, "series": "45°S–55°S"},
      {"year": 2006.84, "value": 0.35, "series": "45°S–55°S"},
      {"year": 2007.0, "value": 0.2, "series": "45°S–55°S"},
      {"year": 2007.17, "value": 0.35, "series": "45°S–55°S"},
      {"year": 2007.34, "value": 0.15, "series": "45°S–55°S"},
      {"year": 2007.54, "value": 0.1, "series": "45°S–55°S"},
      {"year": 2007.74, "value": 0.15, "series": "45°S–55°S"},
      {"year": 2007.91, "value": 0.05, "series": "45°S–55°S"},
      {"year": 2008.13, "value": 0.1, "series": "45°S–55°S"},
      {"year": 2008.3, "value": 0.2, "series": "45°S–55°S"},
      {"year": 2008.49, "value": 0.3, "series": "45°S–55°S"},
      {"year": 2008.66, "value": 0.0, "series": "45°S–55°S"},
      {"year": 2008.83, "value": 0.25, "series": "45°S–55°S"},
      {"year": 2009.0, "value": 0.05, "series": "45°S–55°S"},
      {"year": 2009.16, "value": 0.3, "series": "45°S–55°S"},
      {"year": 2009.33, "value": 0.0, "series": "45°S–55°S"},
      {"year": 2009.5, "value": 0.35, "series": "45°S–55°S"},
      {"year": 2009.67, "value": -0.05, "series": "45°S–55°S"},
      {"year": 2009.88, "value": 0.15, "series": "45°S–55°S"},
      {"year": 2010.05, "value": 0.05, "series": "45°S–55°S"},
      {"year": 2010.27, "value": 0.0, "series": "45°S–55°S"},
      {"year": 2010.47, "value": 0.0, "series": "45°S–55°S"},
      {"year": 2010.72, "value": 0.0, "series": "45°S–55°S"},
      {"year": 2010.97, "value": -0.2, "series": "45°S–55°S"},
      {"year": 2011.17, "value": -0.15, "series": "45°S–55°S"},
      {"year": 2011.38, "value": 0.0, "series": "45°S–55°S"},
      {"year": 2011.56, "value": -0.2, "series": "45°S–55°S"},
      {"year": 2011.78, "value": -0.05, "series": "45°S–55°S"},
      {"year": 2011.98, "value": -0.15, "series": "45°S–55°S"},
      {"year": 2012.18, "value": 0.0, "series": "45°S–55°S"},
      {"year": 2012.4, "value": 0.0, "series": "45°S–55°S"},
      {"year": 2012.6, "value": 0.05, "series": "45°S–55°S"},
      {"year": 2012.82, "value": -0.05, "series": "45°S–55°S"},
      {"year": 2013.0, "value": -0.1, "series": "45°S–55°S"},
      {"year": 2013.23, "value": 0.1, "series": "45°S–55°S"},
      {"year": 2013.45, "value": -0.1, "series": "45°S–55°S"},
      {"year": 2013.65, "value": 0.1, "series": "45°S–55°S"},
      {"year": 2013.85, "value": 0.2, "series": "45°S–55°S"},
      {"year": 2014.07, "value": -0.1, "series": "45°S–55°S"},
      {"year": 2014.24, "value": 0.05, "series": "45°S–55°S"},
      {"year": 2014.41, "value": -0.25, "series": "45°S–55°S"},
      {"year": 2014.62, "value": -0.5, "series": "45°S–55°S"},
      {"year": 2014.69, "value": -0.62, "series": "45°S–55°S"},
      {"year": 2014.86, "value": -0.35, "series": "45°S–55°S"},
      {"year": 2015.08, "value": -0.3, "series": "45°S–55°S"},
      {"year": 2015.3, "value": -0.4, "series": "45°S–55°S"},
      {"year": 2015.5, "value": -0.15, "series": "45°S–55°S"},
      {"year": 2015.75, "value": 0.05, "series": "45°S–55°S"},
      {"year": 2015.91, "value": 0.2, "series": "45°S–55°S"},
      {"year": 2016.08, "value": 0.15, "series": "45°S–55°S"},
      {"year": 2016.3, "value": 0.0, "series": "45°S–55°S"},
      {"year": 2016.5, "value": 0.05, "series": "45°S–55°S"},
      {"year": 2016.67, "value": -0.05, "series": "45°S–55°S"},
      {"year": 2016.84, "value": 0.1, "series": "45°S–55°S"},
      {"year": 2017.0, "value": 0.2, "series": "45°S–55°S"},
      {"year": 2017.26, "value": 0.1, "series": "45°S–55°S"},
      {"year": 2017.51, "value": 0.1, "series": "45°S–55°S"},
      {"year": 2017.76, "value": 0.25, "series": "45°S–55°S"},
      {"year": 2017.93, "value": 0.2, "series": "45°S–55°S"},
      {"year": 2018.09, "value": 0.0, "series": "45°S–55°S"},
      {"year": 2018.3, "value": -0.15, "series": "45°S–55°S"},
      {"year": 2018.51, "value": -0.05, "series": "45°S–55°S"},
      {"year": 2018.76, "value": -0.15, "series": "45°S–55°S"},
      {"year": 2019.0, "value": -0.1, "series": "45°S–55°S"},
      {"year": 2019.26, "value": -0.1, "series": "45°S–55°S"},
      {"year": 2019.52, "value": -0.1, "series": "45°S–55°S"},
      {"year": 2019.77, "value": -0.1, "series": "45°S–55°S"},
      {"year": 2019.99, "value": 0.05, "series": "45°S–55°S"},
      {"year": 2020.2, "value": 0.0, "series": "45°S–55°S"},
      {"year": 2020.36, "value": -0.2, "series": "45°S–55°S"},
      {"year": 2020.57, "value": -0.1, "series": "45°S–55°S"},
      {"year": 2020.77, "value": -0.2, "series": "45°S–55°S"},
      {"year": 2020.97, "value": -0.25, "series": "45°S–55°S"},
      {"year": 2021.17, "value": -0.3, "series": "45°S–55°S"},
      {"year": 2021.37, "value": -0.2, "series": "45°S–55°S"},
      {"year": 2021.53, "value": 0.05, "series": "45°S–55°S"},
      {"year": 2021.7, "value": -0.15, "series": "45°S–55°S"},
      {"year": 2021.9, "value": -0.2, "series": "45°S–55°S"},
      {"year": 2022.11, "value": -0.25, "series": "45°S–55°S"},
      {"year": 2022.33, "value": 0.2, "series": "45°S–55°S"},
      {"year": 2022.53, "value": 0.1, "series": "45°S–55°S"},
      {"year": 2022.7, "value": 0.0, "series": "45°S–55°S"},
      {"year": 2022.9, "value": 0.15, "series": "45°S–55°S"},
      {"year": 2023.03, "value": 0.45, "series": "45°S–55°S"},
      {"year": 2023.2, "value": 0.35, "series": "45°S–55°S"},
      {"year": 2023.37, "value": 0.5, "series": "45°S–55°S"},
      {"year": 2023.53, "value": 0.25, "series": "45°S–55°S"},
      {"year": 2023.67, "value": 0.5, "series": "45°S–55°S"},
      {"year": 2023.83, "value": 0.2, "series": "45°S–55°S"},
      {"year": 2023.96, "value": 0.3, "series": "45°S–55°S"},
      {"year": 2024.13, "value": 0.1, "series": "45°S–55°S"},
      {"year": 2024.29, "value": 0.2, "series": "45°S–55°S"},
      {"year": 2024.46, "value": -0.05, "series": "45°S–55°S"},
      {"year": 2024.66, "value": 0.25, "series": "45°S–55°S"},
      {"year": 2024.8, "value": 0.0, "series": "45°S–55°S"},
      {"year": 2024.96, "value": 0.25, "series": "45°S–55°S"},
      {"year": 2025.13, "value": 0.0, "series": "45°S–55°S"},
      {"year": 2025.3, "value": 0.1, "series": "45°S–55°S"},
      {"year": 2025.5, "value": -0.2, "series": "45°S–55°S"},
      {"year": 2025.67, "value": -0.35, "series": "45°S–55°S"},
      {"year": 2025.85, "value": -0.5, "series": "45°S–55°S"}
    ]
  },
  "vconcat": [
    {
      "width": 478,
      "height": 206,
      "title": {"text": "(c)", "orient": "bottom", "anchor": "middle", "font": "Liberation Serif", "fontSize": 14, "fontWeight": "bold", "color": "black", "offset": 4},
      "layer": [
        {
          "data": {"name": "top"},
          "mark": {"type": "line", "strokeWidth": 3},
          "encoding": {
            "x": {"field": "year", "type": "quantitative", "scale": {"domain": [2002, 2026], "nice": false, "zero": false},
                  "axis": {"orient": "bottom", "title": "Year", "labelFont": "Liberation Serif", "values": [2003, 2005, 2007, 2009, 2011, 2013, 2015, 2017, 2019, 2021, 2023, 2025], "format": "d", "titlePadding": 4}},
            "y": {"field": "value", "type": "quantitative", "scale": {"domain": [3, 10], "nice": false, "zero": false},
                  "axis": {"orient": "left", "title": "H₂O VMR (ppmv)", "labelFont": "Liberation Serif", "values": [3, 4, 5, 6, 7, 8, 9, 10], "titlePadding": 4}},
            "color": {"field": "series", "type": "nominal",
                      "scale": {"domain": ["Observed H₂O", "Fitted H₂O"], "range": ["#0000FF", "#FF0000"]},
                      "legend": {"title": null, "orient": "top-right", "offset": 10, "direction": "vertical", "symbolType": "M-1.4,0L6.6,0", "symbolStrokeWidth": 3, "symbolSize": 100, "strokeColor": "black", "fillColor": "white", "padding": 5, "rowPadding": 4, "labelOffset": 29}}
          }
        },
        {
          "data": {"values": [{}]},
          "mark": {"type": "text", "align": "left", "baseline": "middle", "font": "Liberation Serif", "fontSize": 14, "lineHeight": 20, "color": "black"},
          "encoding": {
            "x": {"datum": 2002.58, "type": "quantitative", "scale": {"domain": [2002, 2026], "nice": false, "zero": false},
                  "axis": {"orient": "top", "labels": false, "title": null, "domain": false, "values": [2003, 2005, 2007, 2009, 2011, 2013, 2015, 2017, 2019, 2021, 2023, 2025]}},
            "y": {"datum": 9.01, "type": "quantitative", "scale": {"domain": [3, 10], "nice": false, "zero": false},
                  "axis": {"orient": "right", "labels": false, "title": null, "domain": false, "values": [3, 4, 5, 6, 7, 8, 9, 10]}},
            "text": {"value": ["Altitude: 30 km", "Latitude: 45°S–55°S"]}
          }
        }
      ],
      "resolve": {"axis": {"x": "independent", "y": "independent"}}
    },
    {
      "width": 478,
      "height": 206,
      "title": {"text": "(d)", "orient": "bottom", "anchor": "middle", "font": "Liberation Serif", "fontSize": 14, "fontWeight": "bold", "color": "black", "offset": 4},
      "layer": [
        {
          "data": {"name": "resid"},
          "transform": [{"filter": "datum.series === 'Zero Reference'"}],
          "mark": {"type": "line", "strokeWidth": 1.5},
          "encoding": {
            "x": {"field": "year", "type": "quantitative", "scale": {"domain": [2002, 2026], "nice": false, "zero": false},
                  "axis": {"orient": "bottom", "title": "Year", "labelFont": "Liberation Serif", "values": [2003, 2005, 2007, 2009, 2011, 2013, 2015, 2017, 2019, 2021, 2023, 2025], "format": "d", "titlePadding": 4}},
            "y": {"field": "value", "type": "quantitative", "scale": {"domain": [-2.5, 2.5], "nice": false, "zero": false},
                  "axis": {"orient": "left", "title": "Residuals of H₂O (ppmv)", "labelFont": "Liberation Serif", "values": [-2, -1, 0, 1, 2], "titlePadding": 4}},
            "color": {"field": "series", "type": "nominal",
                      "scale": {"domain": ["Zero Reference", "45°N–55°N", "5°S–5°N", "45°S–55°S"], "range": ["#333333", "#2F4B8C", "#EE4B2B", "#16997D"]},
                      "legend": {"title": null, "orient": "bottom-left", "offset": 8, "direction": "horizontal", "symbolType": "M-1.4,0L6.6,0", "symbolStrokeWidth": 3, "symbolSize": 100, "columnPadding": 4, "labelOffset": 29, "padding": 0}},
            "strokeDash": {"field": "series", "type": "nominal",
                      "scale": {"domain": ["Zero Reference", "45°N–55°N", "5°S–5°N", "45°S–55°S"], "range": [[8, 4], [1, 0], [1, 0], [1, 0]]},
                      "legend": {"title": null, "orient": "bottom-left", "offset": 8, "direction": "horizontal", "symbolType": "M-1.4,0L6.6,0", "symbolStrokeWidth": 3, "symbolSize": 100, "columnPadding": 4, "labelOffset": 29, "padding": 0}}
          }
        },
        {
          "data": {"name": "resid"},
          "transform": [{"filter": "datum.series !== 'Zero Reference'"}],
          "mark": {"type": "line", "strokeWidth": 2.8},
          "encoding": {
            "x": {"field": "year", "type": "quantitative", "scale": {"domain": [2002, 2026], "nice": false, "zero": false}, "axis": null},
            "y": {"field": "value", "type": "quantitative", "scale": {"domain": [-2.5, 2.5], "nice": false, "zero": false}, "axis": null},
            "color": {"field": "series", "type": "nominal",
                      "scale": {"domain": ["Zero Reference", "45°N–55°N", "5°S–5°N", "45°S–55°S"], "range": ["#333333", "#2F4B8C", "#EE4B2B", "#16997D"]}},
            "strokeDash": {"field": "series", "type": "nominal",
                      "scale": {"domain": ["Zero Reference", "45°N–55°N", "5°S–5°N", "45°S–55°S"], "range": [[8, 4], [1, 0], [1, 0], [1, 0]]}}
          }
        },
        {
          "data": {"values": [{}]},
          "mark": {"type": "text", "align": "left", "baseline": "middle", "font": "Liberation Serif", "fontSize": 14, "color": "black"},
          "encoding": {
            "x": {"datum": 2002.47, "type": "quantitative", "scale": {"domain": [2002, 2026], "nice": false, "zero": false},
                  "axis": {"orient": "top", "labels": false, "title": null, "domain": false, "values": [2003, 2005, 2007, 2009, 2011, 2013, 2015, 2017, 2019, 2021, 2023, 2025]}},
            "y": {"datum": 2.02, "type": "quantitative", "scale": {"domain": [-2.5, 2.5], "nice": false, "zero": false},
                  "axis": {"orient": "right", "labels": false, "title": null, "domain": false, "values": [-2, -1, 0, 1, 2]}},
            "text": {"value": "Altitude: 30 km"}
          }
        }
      ],
      "resolve": {"axis": {"x": "independent", "y": "independent"}}
    }
  ]
}
